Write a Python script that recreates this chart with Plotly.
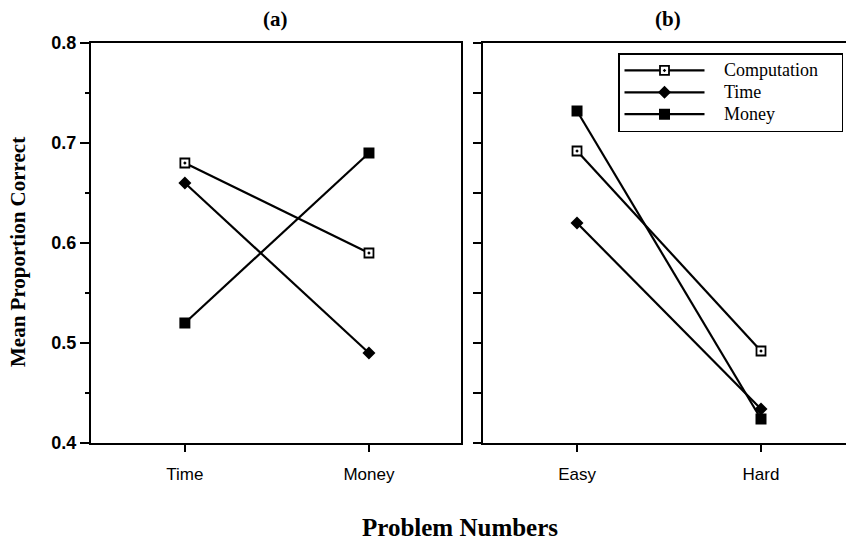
import plotly.graph_objects as go

# ---- data ----
cats_a = ["Time", "Money"]
cats_b = ["Easy", "Hard"]
series_names = ["Computation", "Time", "Money"]
vals_a = {
    "Computation": [0.68, 0.59],
    "Time": [0.66, 0.49],
    "Money": [0.52, 0.69],
}
vals_b = {
    "Computation": [0.692, 0.492],
    "Time": [0.62, 0.434],
    "Money": [0.732, 0.424],
}
y_ticks = [0.4, 0.5, 0.6, 0.7, 0.8]
y_ticklabels = ["0.4", "0.5", "0.6", "0.7", "0.8"]

markers = {
    "Computation": dict(symbol="square-dot", size=9, color="white",
                        line=dict(color="black", width=1.8)),
    "Time": dict(symbol="diamond", size=10, color="black",
                 line=dict(color="black", width=0)),
    "Money": dict(symbol="square", size=11, color="black",
                  line=dict(color="black", width=0)),
}

NB = "\u00a0"
fig = go.Figure()
for name in series_names:
    fig.add_trace(go.Scatter(
        x=list(range(len(cats_a))), y=vals_a[name], mode="lines+markers",
        name=name, line=dict(color="black", width=2.2), marker=markers[name],
        xaxis="x", yaxis="y", showlegend=False))
for name in series_names:
    fig.add_trace(go.Scatter(
        x=list(range(len(cats_b))), y=vals_b[name], mode="lines+markers",
        name=NB * 4 + '<span style="font-size:18px">%s%s</span>' % (name, NB * 4),
        line=dict(color="black", width=2.2), marker=markers[name],
        xaxis="x2", yaxis="y2", showlegend=True))

W, H = 846, 540
tickfont_x = dict(family="Liberation Sans, Arial", size=17, color="black")
tickfont_y = dict(family="Liberation Sans, Arial", size=18, color="black")

ydom = [1 - 443 / H, 1 - 43 / H]
fig.update_layout(
    width=W, height=H,
    margin=dict(l=0, r=0, t=0, b=0, autoexpand=False),
    paper_bgcolor="white", plot_bgcolor="white",
    xaxis=dict(domain=[91 / W, 461 / W], range=[-0.51, 1.5], automargin=False,
               tickvals=list(range(len(cats_a))), ticktext=cats_a,
               ticks="outside", ticklen=7, tickwidth=2, tickcolor="black",
               ticklabelstandoff=8,
               showline=True, linecolor="black", linewidth=2, mirror=True,
               showgrid=False, zeroline=False, tickfont=tickfont_x),
    yaxis=dict(domain=ydom, range=[0.4, 0.8], anchor="x", automargin=False,
               tickvals=y_ticks, ticktext=["<b>%s</b>" % t for t in y_ticklabels],
               ticks="outside", ticklen=9, tickwidth=2, tickcolor="black",
               minor=dict(dtick=0.05, tick0=0.4, ticks="outside", ticklen=4,
                          tickwidth=1.5, tickcolor="black"),
               showline=True, linecolor="black", linewidth=2, mirror=True,
               showgrid=False, zeroline=False, tickfont=tickfont_y),
    xaxis2=dict(domain=[483 / W, 1.0], range=[-0.511, 1.462], anchor="y2", automargin=False,
                tickvals=list(range(len(cats_b))), ticktext=cats_b,
                ticks="outside", ticklen=7, tickwidth=2, tickcolor="black",
                ticklabelstandoff=8,
                showline=True, linecolor="black", linewidth=2, mirror=True,
                showgrid=False, zeroline=False, tickfont=tickfont_x),
    yaxis2=dict(domain=ydom, range=[0.4, 0.8], anchor="x2", automargin=False,
                tickvals=y_ticks, showticklabels=False,
                ticks="outside", ticklen=8, tickwidth=1.5, tickcolor="black",
                minor=dict(dtick=0.05, tick0=0.4, ticks="outside", ticklen=8,
                           tickwidth=1.5, tickcolor="black"),
                showline=True, linecolor="black", linewidth=2, mirror=False,
                showgrid=False, zeroline=False),
    legend=dict(x=618 / W, y=1 - 53 / H, xanchor="left", yanchor="top",
                bgcolor="white", bordercolor="black", borderwidth=1.5,
                font=dict(family="Liberation Serif, Times New Roman", size=14.5, color="black"),
                itemwidth=80, tracegroupgap=0),
    showlegend=True,
)

serif_bold = dict(family="Liberation Serif, Times New Roman", color="black")
ann = dict(xref="paper", yref="paper", showarrow=False, xanchor="center", yanchor="middle")
fig.add_annotation(text="<b>(a)</b>", x=275 / W, y=1 - 19 / H,
                   font=dict(size=21, **serif_bold), **ann)
fig.add_annotation(text="<b>(b)</b>", x=668 / W, y=1 - 19 / H,
                   font=dict(size=21, **serif_bold), **ann)
fig.add_annotation(text="<b>Mean Proportion Correct</b>", x=18 / W, y=1 - 252 / H,
                   textangle=-90, font=dict(size=21, **serif_bold), **ann)
fig.add_annotation(text="<b>Problem Numbers</b>", x=460 / W, y=1 - 527 / H,
                   font=dict(size=25, **serif_bold), **ann)

fig.write_html("out.html", config={"displayModeBar": False},
               post_script="document.body.style.margin='0';document.body.style.overflow='hidden';")
